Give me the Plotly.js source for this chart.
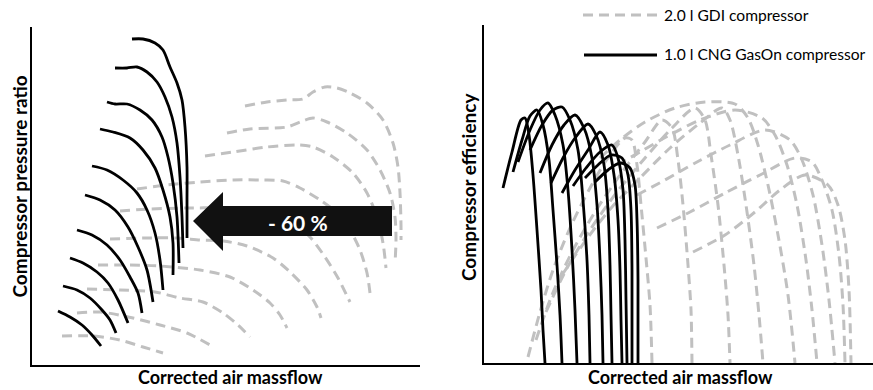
<!DOCTYPE html>
<html><head><meta charset="utf-8">
<script src="https://cdn.plot.ly/plotly-3.0.1.min.js"></script>
<style>html,body{margin:0;padding:0;background:#fff}#chart{width:873px;height:390px}</style>
</head><body><div id="chart"></div>
<script>
// ---- Left panel: pressure ratio vs corrected air massflow (arbitrary units)
const cngPrX = [
  [100,111,123,131,138,145,150,153,155,155,155],
  [83,95,105,115,125,133,140,145,148,150,151],
  [75,83,95,108,120,130,136,141,145,147],
  [68,81,98,111,123,131,138,141,141],
  [60,75,91,105,115,123,128,131],
  [53,68,83,96,106,115,121],
  [45,60,75,88,98,106,110],
  [38,51,65,76,86,96],
  [31,45,58,70,78,84],
  [26,38,50,60,69]
];
const cngPrY = [
  [326,326,322,315,298,282,265,238,198,165,127],
  [297,297,298,293,283,268,248,222,188,148,117],
  [263,261,261,255,245,228,208,182,148,102],
  [236,233,227,215,197,175,148,122,90],
  [199,195,185,172,155,132,105,75],
  [170,165,155,138,118,95,63],
  [135,130,120,105,88,72,52],
  [107,102,93,82,65,42],
  [79,75,67,55,45,32],
  [54,48,40,30,19]
];
const gdiPrX = [
  [213,235,255,271,281,293,305,318,335,351,361,366,368,369,369],
  [195,218,255,268,281,295,315,335,348,358,363,364,363],
  [173,201,235,266,281,301,321,335,345,351,354],
  [105,135,168,201,231,251,268,288,305,318,328,335,338],
  [88,118,155,188,228,258,278,293,306,316,318],
  [78,111,145,168,191,215,241,258,275,285,289],
  [66,98,128,168,198,221,238,248,255],
  [55,88,123,148,171,191,206,218],
  [45,68,101,128,155,178],
  [30,61,88,111,131]
];
const gdiPrY = [
  [259,263,265,266,273,278,277,272,262,245,222,198,172,140,125],
  [232,236,238,243,247,243,232,215,195,172,148,125,102],
  [209,213,218,220,218,208,192,172,148,122,97],
  [176,180,183,185,185,184,177,165,152,135,115,92,72],
  [154,156,157,157,155,145,128,108,87,67,63],
  [126,127,127,125,124,119,107,93,75,58,47],
  [100,100,99,95,88,75,62,50,37],
  [76,75,73,67,63,52,40,28],
  [52,53,47,40,32,20],
  [29,29,25,18,12]
];
// ---- Right panel: efficiency vs corrected air massflow
const cngEffX = [
  [19,28,37,41,45,49,53,57,59,61],
  [29,38,46,53,59,65,69,73,76,78],
  [34,46,56,64,71,79,84,88,91,93],
  [46,58,69,78,86,94,99,103,105,106],
  [56,68,80,91,100,108,113,116,118,119],
  [67,79,91,104,112,120,124,126,127,128],
  [78,91,104,116,124,130,134,136,137,138],
  [89,102,116,128,134,139,141,142,143],
  [101,114,127,138,144,147,148,148],
  [111,124,136,146,151,153,154,154]
];
const cngEffY = [
  [175,211,243,245,228,188,133,73,33,0],
  [191,223,247,253,238,203,153,98,48,0],
  [201,233,253,260,248,218,173,113,53,0],
  [213,238,253,256,243,213,163,103,48,0],
  [190,218,238,248,235,205,158,103,48,0],
  [180,205,225,239,228,198,153,98,48,0],
  [170,193,213,231,218,188,143,93,43,0],
  [177,195,211,218,205,173,123,63,0],
  [185,198,208,205,188,153,93,0],
  [181,193,200,195,178,143,83,0]
];
const gdiEffX = [
  [44,56,69,86,106,124,141,148,153,157,162,166,168],
  [52,68,88,111,136,161,178,188,194,199,204,207,208],
  [62,82,106,133,161,188,211,221,227,234,240,244,246],
  [78,102,128,156,186,216,238,246,254,262,270,275,279],
  [116,136,161,191,221,251,264,274,284,294,304,311],
  [133,156,184,216,251,278,291,303,313,322,328,333],
  [153,181,213,246,281,306,318,329,338,345,351],
  [173,206,241,276,311,328,338,348,355,359,361],
  [209,241,271,296,321,344,354,361,365,367]
];
const gdiEffY = [
  [6,51,93,135,175,205,225,223,198,158,105,58,0],
  [23,68,111,151,188,221,243,235,203,158,98,53,0],
  [51,93,133,171,205,235,255,243,208,158,98,48,0],
  [88,123,156,185,215,240,255,243,208,158,98,48,0],
  [205,223,241,255,261,259,245,218,178,128,68,0],
  [198,211,227,243,253,245,228,198,158,103,53,0],
  [168,183,201,218,233,223,203,168,118,63,0],
  [135,151,170,188,205,201,183,153,108,58,0],
  [111,128,151,173,188,178,158,123,73,0]
];
const seriesNames = ["2.0 l GDI compressor", "1.0 l CNG GasOn compressor"];
const xTitle = "Corrected air massflow";
const yTitleLeft = "Compressor pressure ratio";
const yTitleRight = "Compressor efficiency";
const arrowLabel = "- 60 %";

const GRAY = "#c0c0c0", BLACK = "#000000";
const dashLine = {color: GRAY, width: 3, dash: "10px,6px", shape: "spline", smoothing: 0.8};
const solidLine = {color: BLACK, width: 2.8, shape: "spline", smoothing: 0.8};

const traces = [];
function addFamily(xs, ys, line, xa, ya, name) {
  xs.forEach((x, i) => traces.push({x: x, y: ys[i], type: "scatter", mode: "lines",
    line: line, xaxis: xa, yaxis: ya, name: name, showlegend: false, hoverinfo: "skip"}));
}
addFamily(gdiPrX, gdiPrY, dashLine, "x", "y", seriesNames[0]);
addFamily(cngPrX, cngPrY, solidLine, "x", "y", seriesNames[1]);
addFamily(gdiEffX, gdiEffY, dashLine, "x2", "y2", seriesNames[0]);
addFamily(cngEffX, cngEffY, solidLine, "x2", "y2", seriesNames[1]);

const W = 873, H = 390;
const ax = {showline: true, linecolor: BLACK, linewidth: 2, showgrid: false, zeroline: false,
  showticklabels: false, ticks: "", fixedrange: true};
const titleFont = {family: "Lato, sans-serif", size: 19, color: "#000", weight: "bold"};
const xTitleFont = {family: "Lato, sans-serif", size: 18, color: "#000", weight: "bold"};
const legFont = {family: "Lato, sans-serif", size: 15.6, color: "#000"};

const layout = {
  width: W, height: H, margin: {l: 0, r: 0, t: 0, b: 0},
  paper_bgcolor: "#fff", plot_bgcolor: "rgba(0,0,0,0)", showlegend: false,
  xaxis: Object.assign({}, ax, {domain: [32/W, 420/W], range: [0, 388], anchor: "y"}),
  yaxis: Object.assign({}, ax, {domain: [(H-365)/H, (H-27)/H], range: [0, 338], anchor: "x"}),
  xaxis2: Object.assign({}, ax, {domain: [484/W, 1], range: [0, 389], anchor: "y2"}),
  yaxis2: Object.assign({}, ax, {domain: [(H-363)/H, (H-25)/H], range: [0, 338], anchor: "x2"}),
  shapes: [
    {type: "path", xref: "x", yref: "y", layer: "above",
     path: "M 161,144 L 191,173 L 191,159 L 360,159 L 360,129 L 191,129 L 191,114 Z",
     fillcolor: "#111111", line: {width: 0}},
    {type: "line", xref: "paper", yref: "paper", x0: 583/W, x1: 657/W, y0: 1-15/H, y1: 1-15/H,
     line: {color: GRAY, width: 3, dash: "10px,6px"}},
    {type: "line", xref: "paper", yref: "paper", x0: 584/W, x1: 657/W, y0: 1-55/H, y1: 1-55/H,
     line: {color: BLACK, width: 2.8}}
  ],
  annotations: [
    {text: arrowLabel, xref: "x", yref: "y", x: 265.5, y: 143, showarrow: false,
     font: {family: "Lato, sans-serif", size: 21, color: "#fff", weight: "bold"}},
    {text: yTitleLeft, xref: "paper", yref: "paper", x: 18.5/W, y: 1-187/H, textangle: -90,
     showarrow: false, xanchor: "center", yanchor: "middle", font: titleFont},
    {text: xTitle, xref: "paper", yref: "paper", x: 230/W, y: 1-377/H, borderpad: 0,
     showarrow: false, xanchor: "center", yanchor: "middle", font: xTitleFont},
    {text: yTitleRight, xref: "paper", yref: "paper", x: 468/W, y: 1-187/H, textangle: -90,
     showarrow: false, xanchor: "center", yanchor: "middle", font: titleFont},
    {text: xTitle, xref: "paper", yref: "paper", x: 680/W, y: 1-377/H, borderpad: 0,
     showarrow: false, xanchor: "center", yanchor: "middle", font: xTitleFont},
    {text: seriesNames[0], xref: "paper", yref: "paper", x: 662/W, y: 1-15/H,
     showarrow: false, xanchor: "left", yanchor: "middle", font: legFont},
    {text: seriesNames[1], xref: "paper", yref: "paper", x: 662/W, y: 1-54/H,
     showarrow: false, xanchor: "left", yanchor: "middle", font: legFont}
  ]
};
Plotly.newPlot("chart", traces, layout, {staticPlot: true, displayModeBar: false});
</script></body></html>
